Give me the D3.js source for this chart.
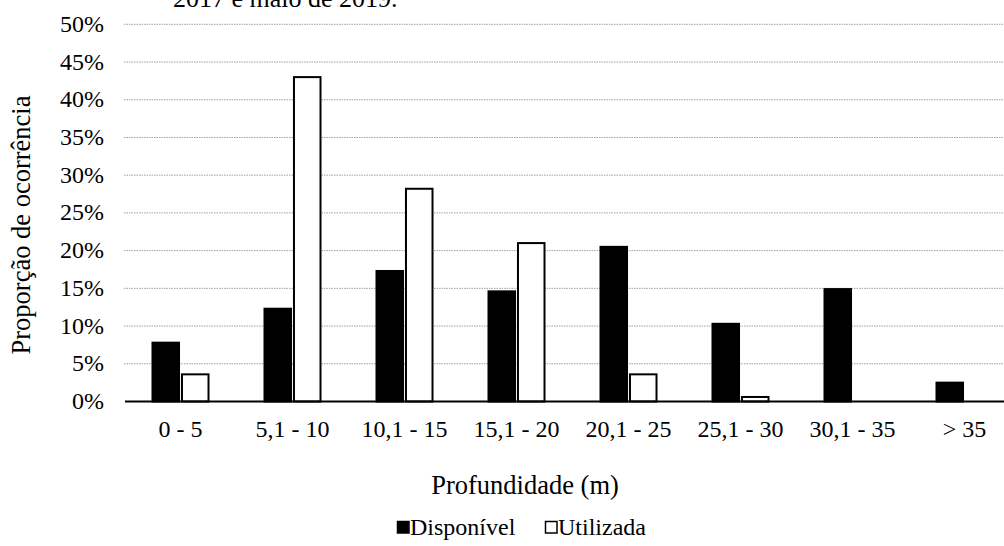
<!DOCTYPE html>
<html>
<head>
<meta charset="utf-8">
<script src="https://cdn.jsdelivr.net/npm/d3@7"></script>
<style>
  body { margin: 0; background: white; }
  svg text { font-family: "Liberation Serif", "Times New Roman", Times, serif; }
</style>
</head>
<body>
<div id="container"></div>
<script>
let w = 1004;
let h = 546;

// data
let categories = ["0 - 5", "5,1 - 10", "10,1 - 15", "15,1 - 20", "20,1 - 25", "25,1 - 30", "30,1 - 35", "> 35"];
let series = ["Disponível", "Utilizada"];
let disponivel = [7.8, 12.3, 17.3, 14.6, 20.5, 10.3, 14.9, 2.5];
let utilizada = [3.6, 43.0, 28.2, 21.0, 3.6, 0.6, 0, 0];
let yTicks = [0, 5, 10, 15, 20, 25, 30, 35, 40, 45, 50];

let viz = d3.select("#container").append("svg")
              .attr("width", w)
              .attr("height", h)
              .style("display", "block")
;

// cut-off caption line at the top
viz.append("text")
      .text("2017 e maio de 2019.")
      .attr("x", 173)
      .attr("y", 7)
      .attr("font-size", 26)
;

let xScale = d3.scaleBand().domain(categories).range([124.5, 1020.5]).paddingInner(0.5).paddingOuter(0.25);
let xSub = d3.scaleBand().domain(series).range([0, xScale.bandwidth()]).paddingInner(0.1);
let yScale = d3.scaleLinear().domain([0, 50]).range([401.5, 24.3]);

// gridlines
viz.selectAll(".grid").data(yTicks.filter(d => d > 0)).enter()
    .append("line")
    .attr("class", "grid")
    .attr("x1", 124)
    .attr("x2", w)
    .attr("y1", d => yScale(d))
    .attr("y2", d => yScale(d))
    .attr("stroke", "#a0a0a0")
    .attr("stroke-width", 1)
    .attr("stroke-dasharray", "1.5,1")
;

// y tick labels
viz.selectAll(".ytick").data(yTicks).enter()
    .append("text")
    .attr("class", "ytick")
    .text(d => d + "%")
    .attr("x", 104)
    .attr("y", d => yScale(d) + 7.5)
    .attr("text-anchor", "end")
    .attr("font-size", 24)
;

// bars
let rows = categories.map(function(c, i){
  return {cat: c, values: [
    {s: "Disponível", v: disponivel[i]},
    {s: "Utilizada", v: utilizada[i]}
  ]};
});

let groups = viz.selectAll(".group").data(rows).enter()
    .append("g")
    .attr("class", "group")
    .attr("transform", d => "translate(" + xScale(d.cat) + ",0)")
;

groups.selectAll("rect").data(d => d.values.filter(v => v.v > 0)).enter()
    .append("rect")
    .attr("x", d => xSub(d.s))
    .attr("y", d => yScale(d.v))
    .attr("width", xSub.bandwidth())
    .attr("height", d => yScale(0) - yScale(d.v))
    .attr("fill", d => d.s == "Disponível" ? "black" : "white")
    .attr("stroke", "black")
    .attr("stroke-width", 2)
;

// x axis line
viz.append("line")
    .attr("x1", 125)
    .attr("x2", w)
    .attr("y1", yScale(0))
    .attr("y2", yScale(0))
    .attr("stroke", "black")
    .attr("stroke-width", 2)
;

// x tick labels
viz.selectAll(".xtick").data(categories).enter()
    .append("text")
    .attr("class", "xtick")
    .text(d => d)
    .attr("x", d => xScale(d) + xScale.bandwidth() / 2)
    .attr("y", 437)
    .attr("text-anchor", "middle")
    .attr("font-size", 24)
;

// axis titles
viz.append("text")
    .text("Profundidade (m)")
    .attr("x", 525)
    .attr("y", 494)
    .attr("text-anchor", "middle")
    .attr("font-size", 26.5)
;

viz.append("text")
    .text("Proporção de ocorrência")
    .attr("transform", "translate(30,225) rotate(-90)")
    .attr("text-anchor", "middle")
    .attr("font-size", 26.5)
;

// legend
let legendX = [397, 545];
let legend = viz.selectAll(".legend").data(series).enter()
    .append("g")
    .attr("class", "legend")
    .attr("transform", (d, i) => "translate(" + legendX[i] + ",521)")
;
legend.append("rect")
    .attr("x", 0.5)
    .attr("y", 0.5)
    .attr("width", 11.5)
    .attr("height", 11.5)
    .attr("fill", (d, i) => i == 0 ? "black" : "white")
    .attr("stroke", "black")
    .attr("stroke-width", 1.5)
;
legend.append("text")
    .text(d => d)
    .attr("x", 13)
    .attr("y", 14)
    .attr("font-size", 24)
;
</script>
</body>
</html>
